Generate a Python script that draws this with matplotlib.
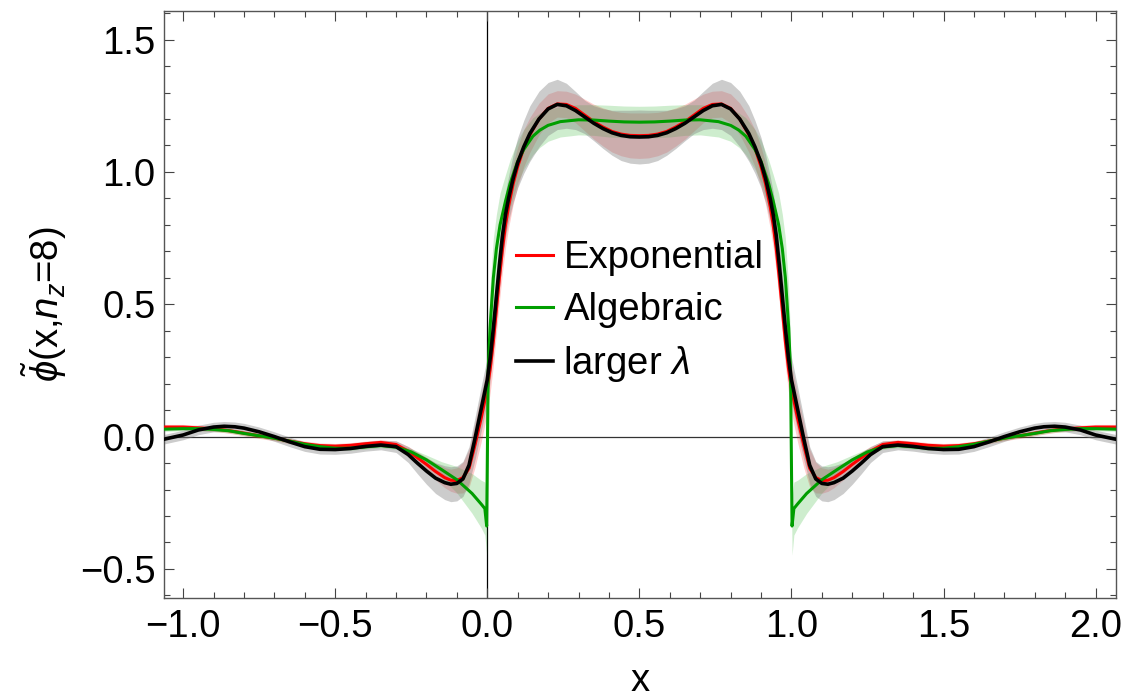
import matplotlib
matplotlib.use("Agg")
import matplotlib.pyplot as plt
from matplotlib.ticker import MultipleLocator
from matplotlib.lines import Line2D

plt.rcParams['font.family'] = ['Liberation Sans', 'DejaVu Sans']
plt.rcParams['mathtext.fontset'] = 'custom'
plt.rcParams['mathtext.rm'] = 'Liberation Sans'
plt.rcParams['mathtext.it'] = 'Liberation Sans:italic'
plt.rcParams['mathtext.fallback'] = 'stixsans'

# sample points shared by the exponential and larger-lambda curves
x_smooth = [-1.063, -1.0, -0.95, -0.9, -0.865, -0.83, -0.8, -0.75, -0.7, -0.65,
            -0.6, -0.55, -0.5, -0.45, -0.4, -0.35, -0.3, -0.26, -0.23, -0.2,
            -0.17, -0.14, -0.12, -0.1, -0.08, -0.06, -0.04, -0.02, 0.0, 0.01,
            0.02, 0.03, 0.04, 0.05, 0.06, 0.07, 0.085, 0.1, 0.12, 0.14,
            0.17, 0.2, 0.23, 0.26, 0.29, 0.32, 0.35, 0.38, 0.41, 0.44,
            0.47, 0.5,
            0.53, 0.56, 0.59, 0.62, 0.65, 0.68, 0.71, 0.74, 0.77, 0.8,
            0.83, 0.86, 0.88, 0.9, 0.915, 0.93, 0.94, 0.95, 0.96, 0.97,
            0.98, 0.99, 1.0, 1.02, 1.04, 1.06, 1.08, 1.1, 1.12, 1.14,
            1.17, 1.2, 1.23, 1.26, 1.3, 1.35, 1.4, 1.45, 1.5, 1.55,
            1.6, 1.65, 1.7, 1.75, 1.8, 1.83, 1.865, 1.9, 1.95, 2.0, 2.066]

exp_y = [0.036, 0.036, 0.033, 0.029, 0.025, 0.019, 0.013, 0.003, -0.006, -0.017,
         -0.027, -0.034, -0.036, -0.033, -0.027, -0.022, -0.030, -0.055, -0.080, -0.105,
         -0.132, -0.155, -0.165, -0.166, -0.155, -0.120, -0.030, 0.070, 0.180, 0.260,
         0.360, 0.480, 0.600, 0.710, 0.800, 0.870, 0.955, 1.020, 1.090, 1.140,
         1.200, 1.240, 1.257, 1.255, 1.240, 1.215, 1.190, 1.170, 1.153, 1.143,
         1.138, 1.137,
         1.138, 1.143, 1.153, 1.170, 1.190, 1.215, 1.240, 1.255, 1.257, 1.240,
         1.200, 1.140, 1.090, 1.020, 0.955, 0.870, 0.800, 0.710, 0.600, 0.480,
         0.360, 0.260, 0.180, 0.070, -0.030, -0.120, -0.155, -0.166, -0.165, -0.155,
         -0.132, -0.105, -0.080, -0.055, -0.030, -0.022, -0.027, -0.033, -0.036, -0.034,
         -0.027, -0.017, -0.006, 0.003, 0.013, 0.019, 0.025, 0.029, 0.033, 0.036, 0.036]

exp_err = [0.01] * 16 + [
    0.013, 0.018, 0.022, 0.027, 0.032, 0.038, 0.042, 0.048, 0.058, 0.072,
    0.085, 0.09, 0.09, 0.09, 0.09, 0.09, 0.09, 0.088, 0.085, 0.082,
    0.078, 0.075, 0.07, 0.066, 0.06, 0.055, 0.05, 0.05, 0.054, 0.06,
    0.066, 0.072, 0.078, 0.082, 0.085, 0.086,
    0.085, 0.082, 0.078, 0.072, 0.066, 0.06, 0.054, 0.05, 0.05, 0.055,
    0.06, 0.066, 0.07, 0.075, 0.078, 0.082, 0.085, 0.088, 0.09, 0.09,
    0.09, 0.09, 0.09, 0.09, 0.085, 0.072, 0.058, 0.048, 0.042, 0.038,
    0.032, 0.027, 0.022, 0.018, 0.013] + [0.01] * 16

lam_y = [-0.010, 0.006, 0.025, 0.036, 0.039, 0.037, 0.032, 0.018, 0.000, -0.020,
         -0.038, -0.048, -0.049, -0.045, -0.037, -0.032, -0.038, -0.068, -0.100, -0.130,
         -0.157, -0.174, -0.180, -0.177, -0.160, -0.108, -0.005, 0.105, 0.215, 0.300,
         0.410, 0.530, 0.650, 0.760, 0.840, 0.900, 0.975, 1.035, 1.095, 1.145,
         1.200, 1.238, 1.255, 1.250, 1.232, 1.208, 1.184, 1.164, 1.148, 1.138,
         1.133, 1.132,
         1.133, 1.138, 1.148, 1.164, 1.184, 1.208, 1.232, 1.250, 1.255, 1.238,
         1.200, 1.145, 1.095, 1.035, 0.975, 0.900, 0.840, 0.760, 0.650, 0.530,
         0.410, 0.300, 0.215, 0.105, -0.005, -0.108, -0.160, -0.177, -0.180, -0.174,
         -0.157, -0.130, -0.100, -0.068, -0.038, -0.032, -0.037, -0.045, -0.049, -0.048,
         -0.038, -0.020, 0.000, 0.018, 0.032, 0.037, 0.039, 0.036, 0.025, 0.006, -0.010]

lam_err = [0.018] * 16 + [
    0.022, 0.03, 0.04, 0.05, 0.058, 0.064, 0.066, 0.066, 0.066, 0.07,
    0.08, 0.085, 0.085, 0.085, 0.085, 0.085, 0.085, 0.085, 0.085, 0.085,
    0.09, 0.095, 0.1, 0.105, 0.105, 0.1, 0.095, 0.085, 0.072, 0.063,
    0.066, 0.075, 0.085, 0.095, 0.1, 0.102,
    0.1, 0.095, 0.085, 0.075, 0.066, 0.063, 0.072, 0.085, 0.095, 0.1,
    0.105, 0.105, 0.1, 0.095, 0.09, 0.085, 0.085, 0.085, 0.085, 0.085,
    0.085, 0.085, 0.085, 0.085, 0.08, 0.07, 0.066, 0.066, 0.066, 0.064,
    0.058, 0.05, 0.04, 0.03, 0.022] + [0.018] * 16

# algebraic curve has its own samples around the jumps at x=0 and x=1
x_alg = [-1.063, -1.0, -0.95, -0.9, -0.85, -0.8, -0.75, -0.7, -0.65, -0.6,
         -0.55, -0.5, -0.45, -0.4, -0.35, -0.3, -0.25, -0.2, -0.15, -0.1,
         -0.05, -0.02, -0.008, -0.002, 0.003, 0.009, 0.02, 0.03, 0.042, 0.06,
         0.075, 0.1, 0.12, 0.15, 0.173, 0.2, 0.24, 0.3, 0.35, 0.4,
         0.45, 0.5,
         0.55, 0.6, 0.65, 0.7, 0.76, 0.8, 0.827, 0.85, 0.88, 0.9,
         0.925, 0.94, 0.958, 0.97, 0.98, 0.991, 0.997, 1.002, 1.008, 1.02,
         1.05, 1.1, 1.15, 1.2, 1.25, 1.3, 1.35, 1.4, 1.45, 1.5,
         1.55, 1.6, 1.65, 1.7, 1.75, 1.8, 1.85, 1.9, 1.95, 2.0, 2.066]

alg_y = [0.028, 0.030, 0.030, 0.027, 0.022, 0.012, 0.003, -0.006, -0.017, -0.029,
         -0.038, -0.044, -0.044, -0.039, -0.034, -0.040, -0.058, -0.088, -0.125, -0.163,
         -0.215, -0.255, -0.272, -0.338, 0.250, 0.410, 0.600, 0.710, 0.800, 0.890,
         0.956, 1.040, 1.085, 1.135, 1.158, 1.176, 1.190, 1.197, 1.196, 1.192,
         1.189, 1.188,
         1.189, 1.192, 1.196, 1.197, 1.190, 1.176, 1.158, 1.135, 1.085, 1.040,
         0.956, 0.890, 0.800, 0.710, 0.600, 0.410, 0.250, -0.338, -0.272, -0.255,
         -0.215, -0.163, -0.125, -0.088, -0.058, -0.040, -0.034, -0.039, -0.044, -0.044,
         -0.038, -0.029, -0.017, -0.006, 0.003, 0.012, 0.022, 0.027, 0.030, 0.030, 0.028]

alg_err = [0.008] * 16 + [
    0.012, 0.018, 0.03, 0.05, 0.075, 0.09, 0.1, 0.11, 0.12, 0.15,
    0.15, 0.13, 0.12, 0.1, 0.09, 0.08, 0.075, 0.07, 0.065, 0.06,
    0.058, 0.057, 0.058, 0.06, 0.06, 0.06,
    0.06, 0.06, 0.058, 0.057, 0.058, 0.06, 0.065, 0.07, 0.075, 0.08,
    0.09, 0.1, 0.12, 0.13, 0.15, 0.15, 0.12, 0.11, 0.1, 0.09,
    0.075, 0.05, 0.03, 0.018, 0.012] + [0.008] * 16

labels = ['Exponential', 'Algebraic', r'larger $\lambda$']
xticks = [-1.0, -0.5, 0.0, 0.5, 1.0, 1.5, 2.0]
xtick_labels = ['\u22121.0', '\u22120.5', '0.0', '0.5', '1.0', '1.5', '2.0']
yticks = [-0.5, 0.0, 0.5, 1.0, 1.5]
ytick_labels = ['\u22120.5', '0.0', '0.5', '1.0', '1.5']

RED = '#ff0000'
GREEN = '#009e00'
BLACK = '#000000'
FS = 27.5


def band(y, err, sign):
    return [v + sign * e for v, e in zip(y, err)]


fig = plt.figure(figsize=(11.41, 6.97), dpi=100)
ax = fig.add_axes([0.1437, 0.142, 0.8341, 0.8422])

# uncertainty bands
ax.fill_between(x_smooth, band(exp_y, exp_err, -1), band(exp_y, exp_err, 1),
                color=RED, alpha=0.2, linewidth=0, zorder=2)
ax.fill_between(x_alg, band(alg_y, alg_err, -1), band(alg_y, alg_err, 1),
                color='#22b022', alpha=0.22, linewidth=0, zorder=2)
ax.fill_between(x_smooth, band(lam_y, lam_err, -1), band(lam_y, lam_err, 1),
                color='#808080', alpha=0.4, linewidth=0, zorder=2)

# coordinate axes through the origin
ax.axhline(0, color='#333333', linewidth=0.9, zorder=1.5)
ax.axvline(0, color='black', linewidth=0.9, zorder=1.5)

# central curves
ax.plot(x_smooth, exp_y, color=RED, linewidth=2.2, zorder=3)
ax.plot(x_alg, alg_y, color=GREEN, linewidth=2.2, zorder=3)
ax.plot(x_smooth, lam_y, color=BLACK, linewidth=2.6, zorder=4)

ax.set_xlim(-1.063, 2.066)
ax.set_ylim(-0.61, 1.608)

ax.set_xticks(xticks)
ax.set_xticklabels(xtick_labels)
ax.set_yticks(yticks)
ax.set_yticklabels(ytick_labels)
ax.xaxis.set_minor_locator(MultipleLocator(0.1))
ax.yaxis.set_minor_locator(MultipleLocator(0.1))
ax.tick_params(which='both', direction='in', top=True, right=True,
               color='#444444', width=0.8, labelsize=FS, labelcolor='black')
ax.tick_params(which='major', length=7.5)
ax.tick_params(which='minor', length=4.2)
ax.tick_params(axis='x', pad=8)
ax.tick_params(axis='y', pad=6)
for sp in ax.spines.values():
    sp.set_color('#555555')
    sp.set_linewidth(1.0)

ax.set_xlabel('x', fontsize=FS)
ax.xaxis.set_label_coords(0.5, -0.11)
ax.set_ylabel(r'$\tilde{\phi}$(x,$n_z$=8)', fontsize=FS)
ax.yaxis.set_label_coords(-0.1, 0.5)

handles = [Line2D([], [], color=RED, linewidth=2.2),
           Line2D([], [], color=GREEN, linewidth=2.2),
           Line2D([], [], color=BLACK, linewidth=2.6)]
ax.legend(handles, labels, loc='center left', bbox_to_anchor=(0.3696, 0.487),
          frameon=False, fontsize=FS, borderpad=0, borderaxespad=0,
          handlelength=0.97, handletextpad=0.28, labelspacing=0.42)

fig.savefig('out.png', dpi=100)
